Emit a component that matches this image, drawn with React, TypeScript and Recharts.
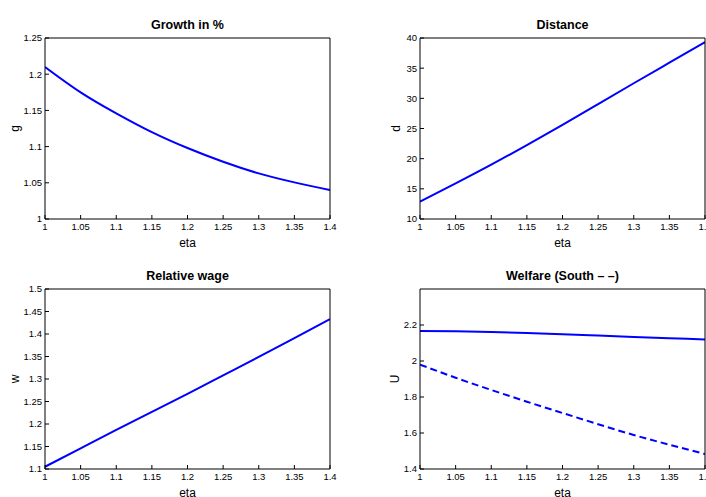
import React from 'react';
import { LineChart, Line, XAxis, YAxis, Label } from 'recharts';

// values
const eta = [1, 1.05, 1.1, 1.15, 1.2, 1.25, 1.3, 1.35, 1.4];
const growth = [1.21, 1.175, 1.146, 1.12, 1.098, 1.079, 1.063, 1.0506, 1.04];
const distance = [12.9, 15.9, 19.0, 22.25, 25.6, 29.05, 32.5, 35.9, 39.3];
const wage = [1.105, 1.146, 1.187, 1.227, 1.267, 1.308, 1.349, 1.391, 1.433];
const welfareNorth = [2.167, 2.165, 2.161, 2.155, 2.148, 2.141, 2.134, 2.127, 2.12];
const welfareSouth = [1.98, 1.907, 1.839, 1.774, 1.711, 1.649, 1.589, 1.535, 1.483];

const etaTicks = [1, 1.05, 1.1, 1.15, 1.2, 1.25, 1.3, 1.35, 1.4];
const growthTicks = [1, 1.05, 1.1, 1.15, 1.2, 1.25];
const distanceTicks = [10, 15, 20, 25, 30, 35, 40];
const wageTicks = [1.1, 1.15, 1.2, 1.25, 1.3, 1.35, 1.4, 1.45, 1.5];
const welfareTicks = [1.4, 1.6, 1.8, 2, 2.2];

const FONT = '"Liberation Sans", Arial, Helvetica, sans-serif';
const BLUE = '#0000ff';
const tickStyle = { fill: '#000', fontSize: 9.5, fontFamily: FONT };

type SeriesDef = { key: string; values: number[]; dash?: string };

interface PanelProps {
  left: number;
  top: number;
  height: number;
  title: string;
  yName: string;
  yLabelDist: number;
  yWidth: number;
  plotTop: number;
  plotRight: number;
  yDomain: [number, number];
  yTicks: number[];
  series: SeriesDef[];
}

const Panel: React.FC<PanelProps> = ({
  left, top, height, title, yName, yLabelDist, yWidth, plotTop, plotRight,
  yDomain, yTicks, series,
}) => {
  const data = eta.map((x, i) => {
    const row: Record<string, number> = { x };
    series.forEach((s) => { row[s.key] = s.values[i]; });
    return row;
  });
  const xAxisHeight = height - 219;

  return (
    <div style={{ position: 'absolute', left, top }}>
      <LineChart
        width={353}
        height={height}
        data={data}
        margin={{ top: plotTop - 1, right: 353 - plotRight - 1, bottom: 0, left: 0 }}
      >
        <XAxis
          dataKey="x"
          type="number"
          domain={[1, 1.4]}
          ticks={etaTicks}
          allowDataOverflow
          height={xAxisHeight}
          tickSize={-4}
          tickMargin={8}
          tick={tickStyle}
          axisLine={{ stroke: '#000' }}
          tickLine={{ stroke: '#000' }}
          interval={0}
        >
          <Label
            content={({ viewBox }: any) => (
              <text
                x={viewBox.x + viewBox.width / 2}
                y={viewBox.y + 28}
                textAnchor="middle"
                fontSize={12}
                fontFamily={FONT}
                fill="#000"
              >
                eta
              </text>
            )}
          />
        </XAxis>
        {/* top edge of the box, inward ticks, carries the title */}
        <XAxis
          xAxisId="top"
          orientation="top"
          dataKey="x"
          type="number"
          domain={[1, 1.4]}
          ticks={etaTicks}
          allowDataOverflow
          height={1}
          tickSize={-4}
          tick={false}
          axisLine={{ stroke: '#000' }}
          tickLine={{ stroke: '#000' }}
          interval={0}
        >
          <Label
            content={({ viewBox }: any) => (
              <text
                x={viewBox.x + viewBox.width / 2}
                y={viewBox.y + viewBox.height - 9}
                textAnchor="middle"
                fontSize={12.5}
                fontWeight="bold"
                fontFamily={FONT}
                fill="#000"
              >
                {title}
              </text>
            )}
          />
        </XAxis>
        <YAxis
          type="number"
          domain={yDomain}
          ticks={yTicks}
          allowDataOverflow
          width={yWidth}
          tickSize={-4}
          tickMargin={7}
          tick={tickStyle}
          axisLine={{ stroke: '#000' }}
          tickLine={{ stroke: '#000' }}
          interval={0}
        >
          <Label
            content={({ viewBox }: any) => {
              const lx = viewBox.x + viewBox.width - yLabelDist;
              const ly = viewBox.y + viewBox.height / 2;
              return (
                <text
                  x={lx}
                  y={ly}
                  transform={`rotate(-90 ${lx} ${ly})`}
                  textAnchor="middle"
                  dominantBaseline="central"
                  fontSize={12}
                  fontFamily={FONT}
                  fill="#000"
                >
                  {yName}
                </text>
              );
            }}
          />
        </YAxis>
        {/* right edge of the box */}
        <YAxis
          yAxisId="right"
          orientation="right"
          type="number"
          domain={yDomain}
          ticks={yTicks}
          allowDataOverflow
          width={1}
          tickSize={-4}
          tick={false}
          axisLine={{ stroke: '#000' }}
          tickLine={{ stroke: '#000' }}
          interval={0}
        />
        {series.map((s) => (
          <Line
            key={s.key}
            dataKey={s.key}
            type="natural"
            stroke={BLUE}
            strokeWidth={2}
            strokeDasharray={s.dash}
            dot={false}
            activeDot={false}
            isAnimationActive={false}
          />
        ))}
      </LineChart>
    </div>
  );
};

export default function App() {
  return (
    <div style={{ position: 'absolute', left: 0, top: 0, width: 706, height: 497, overflow: 'hidden', background: '#fff' }}>
      <Panel
        left={0} top={0} height={250} title="Growth in %" yName="g" yLabelDist={30}
        yWidth={45} plotTop={38} plotRight={330} yDomain={[1, 1.25]} yTicks={growthTicks}
        series={[{ key: 'g', values: growth }]}
      />
      <Panel
        left={353} top={0} height={250} title="Distance" yName="d" yLabelDist={24}
        yWidth={67} plotTop={38} plotRight={352} yDomain={[10, 40]} yTicks={distanceTicks}
        series={[{ key: 'd', values: distance }]}
      />
      <Panel
        left={0} top={250} height={247} title="Relative wage" yName="w" yLabelDist={30}
        yWidth={45} plotTop={39} plotRight={330} yDomain={[1.1, 1.5]} yTicks={wageTicks}
        series={[{ key: 'w', values: wage }]}
      />
      <Panel
        left={353} top={250} height={247} title="Welfare (South – –)" yName="U" yLabelDist={25}
        yWidth={67} plotTop={39} plotRight={352} yDomain={[1.4, 2.4]} yTicks={welfareTicks}
        series={[
          { key: 'north', values: welfareNorth },
          { key: 'south', values: welfareSouth, dash: '7 4' },
        ]}
      />
    </div>
  );
}
